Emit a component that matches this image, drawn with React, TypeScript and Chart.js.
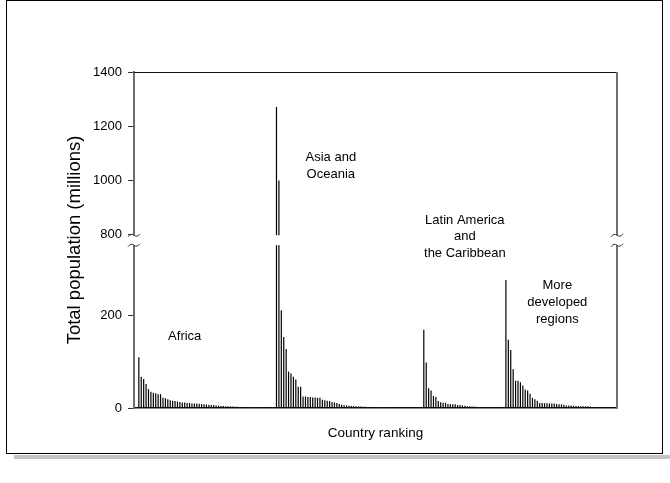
import { useEffect, useRef } from 'react';
import { Chart, registerables, LinearScale } from 'chart.js';

// Population (millions) of each country, ranked within its region
const AFRICA = [
  110, 68, 63, 52, 41, 35, 33, 32, 30, 30,
  22, 21, 19, 17, 16, 15, 14, 13, 12, 12,
  11, 11, 10, 10, 9.5, 9, 8.5, 8, 7.7, 7,
  6.5, 6.3, 5.5, 5, 4.6, 4.4, 4, 3.7, 3.5, 3,
  2.8, 2.5, 2.1, 1.9, 1.6, 1.4, 1.3, 1.2, 1.1, 0.9,
  0.8, 0.7, 0.6, 0.5, 0.4, 0.3, 0.15,
];
const ASIA_OCEANIA = [
  1271, 999, 212, 154, 128, 79, 75, 68, 62, 46,
  46, 25, 25, 24, 24, 23, 23, 22, 22, 18,
  17, 16, 15, 13, 12, 11, 8.5, 7, 6, 5.5,
  5, 4.6, 4.2, 3.8, 3.4, 3.1, 2.8, 2.5, 2.3, 2.1,
  1.9, 1.7, 1.5, 1.3, 1.1, 1, 0.9, 0.8, 0.6, 0.5,
  0.4, 0.3, 0.25, 0.2, 0.15, 0.12, 0.1, 0.08, 0.06, 0.04,
  0.02,
];
const LATIN_AMERICA = [
  170, 99, 43, 38, 26, 24, 15, 12.6, 11.4, 11.2,
  8.5, 8.4, 8.3, 8.1, 6.4, 6.3, 5.5, 5, 4, 3.9,
  3.3, 2.9, 2.6, 1.3, 0.8, 0.45, 0.43, 0.4, 0.3, 0.27,
  0.24, 0.2, 0.16, 0.12,
];
const MORE_DEVELOPED = [
  278, 148, 126, 84, 59, 59, 56, 49, 40, 38,
  31, 22, 19, 16, 11, 10.6, 10.3, 10.2, 10, 10,
  10, 8.8, 8.1, 8, 7.2, 5.4, 5.3, 5.2, 4.7, 4.5,
  4.3, 3.9, 3.8, 3.8, 3.7, 3.1, 2.4, 2, 2, 1.4,
  0.44, 0.39, 0.28, 0.15, 0.09, 0.06,
];

const REGION_NAMES = [
  ['Africa'],
  ['Asia and', 'Oceania'],
  ['Latin America', 'and', 'the Caribbean'],
  ['More', 'developed', 'regions'],
];

const Y_TICKS = [0, 200, 800, 1000, 1200, 1400];

// The value axis is broken between LOW_MAX and HIGH_MIN
const LOW_MAX = 350;
const HIGH_MIN = 800;
const HIGH_MAX = 1400;
const LOW_SHARE = 0.48;
const HIGH_SHARE = 0.483;

const FIRST_RANK = 2;
const RANK_MAX = 200;

const FONT = 'Liberation Sans, Arial, Helvetica, sans-serif';

class BrokenLinearScale extends LinearScale {
  static id = 'brokenLinear';
  static defaults = {};

  getPixelForValue(value: number) {
    if (value === null || value === undefined || Number.isNaN(value)) return NaN;
    const h = this.bottom - this.top;
    const lowTop = this.bottom - h * LOW_SHARE;
    const highBottom = this.top + h * HIGH_SHARE;
    if (value <= LOW_MAX) {
      return this.bottom - (value / LOW_MAX) * (this.bottom - lowTop);
    }
    if (value >= HIGH_MIN) {
      return highBottom - ((value - HIGH_MIN) / (HIGH_MAX - HIGH_MIN)) * (highBottom - this.top);
    }
    return lowTop - ((value - LOW_MAX) / (HIGH_MIN - LOW_MAX)) * (lowTop - highBottom);
  }

  getValueForPixel(pixel: number) {
    const h = this.bottom - this.top;
    const lowTop = this.bottom - h * LOW_SHARE;
    const highBottom = this.top + h * HIGH_SHARE;
    if (pixel >= lowTop) return ((this.bottom - pixel) / (this.bottom - lowTop)) * LOW_MAX;
    if (pixel <= highBottom) {
      return HIGH_MIN + ((highBottom - pixel) / (highBottom - this.top)) * (HIGH_MAX - HIGH_MIN);
    }
    return LOW_MAX + ((lowTop - pixel) / (lowTop - highBottom)) * (HIGH_MIN - LOW_MAX);
  }
}

Chart.register(...registerables, BrokenLinearScale);

// Where each region name sits, in rank / population units
const REGION_ANCHORS = [
  { rank: 21, value: 156 },
  { rank: 81.5, value: 1083 },
  { rank: 137, value: 853 },
  { rank: 175.3, value: 265 },
];

function drawBreakMark(ctx: CanvasRenderingContext2D, x: number, y: number) {
  ctx.beginPath();
  ctx.moveTo(x - 6, y + 1.5);
  ctx.quadraticCurveTo(x - 3, y - 2.5, x, y);
  ctx.quadraticCurveTo(x + 3, y + 2.5, x + 6, y - 1.5);
  ctx.stroke();
}

const framePlugin = {
  id: 'frameAndBreaks',
  beforeDraw(chart: Chart) {
    const { ctx, width, height } = chart;
    ctx.save();
    ctx.fillStyle = '#ffffff';
    ctx.fillRect(0, 0, width, height);
    ctx.restore();
  },
  afterDraw(chart: Chart) {
    const { ctx, chartArea } = chart;
    const { left, right, top, bottom } = chartArea;
    const y = chart.scales.y as any;
    const x = chart.scales.x as any;
    ctx.save();

    // top and right edges of the plot box
    ctx.strokeStyle = '#111';
    ctx.lineWidth = 1;
    ctx.beginPath();
    ctx.moveTo(left, Math.round(top) + 0.5);
    ctx.lineTo(right, Math.round(top) + 0.5);
    ctx.stroke();
    ctx.strokeStyle = '#6e6e6e';
    ctx.lineWidth = 2;
    ctx.beginPath();
    ctx.moveTo(Math.round(right), top);
    ctx.lineTo(Math.round(right), bottom);
    ctx.stroke();

    // axis break
    const yUp = y.getPixelForValue(HIGH_MIN);
    const yLow = y.getPixelForValue(LOW_MAX);
    ctx.fillStyle = '#ffffff';
    ctx.fillRect(left - 7, yUp + 1, right - left + 14, yLow - yUp - 2.5);
    ctx.strokeStyle = '#333';
    ctx.lineWidth = 1;
    drawBreakMark(ctx, left, yUp + 1);
    drawBreakMark(ctx, left, yLow - 1.5);
    drawBreakMark(ctx, right, yUp + 1);
    drawBreakMark(ctx, right, yLow - 1.5);

    // region names
    ctx.fillStyle = '#000';
    ctx.font = `13px ${FONT}`;
    ctx.textAlign = 'center';
    ctx.textBaseline = 'middle';
    REGION_NAMES.forEach((lines, i) => {
      const a = REGION_ANCHORS[i];
      const cx = x.getPixelForValue(a.rank);
      const cy = y.getPixelForValue(a.value);
      lines.forEach((line, k) => ctx.fillText(line, cx, cy + k * 16.8));
    });

    // outer frame with its shadow
    ctx.fillStyle = '#c4c4c4';
    ctx.fillRect(14, 455, 656, 4);
    ctx.strokeStyle = '#000';
    ctx.lineWidth = 1;
    ctx.strokeRect(6.5, 0.5, 656, 453);
    ctx.restore();
  },
};

export default function App() {
  const canvasRef = useRef<HTMLCanvasElement | null>(null);

  useEffect(() => {
    const canvas = canvasRef.current;
    if (!canvas) return;
    const values = [...AFRICA, ...ASIA_OCEANIA, ...LATIN_AMERICA, ...MORE_DEVELOPED];
    const points = values.map((v, i) => ({ x: i + FIRST_RANK, y: v }));

    const chart = new Chart(canvas, {
      type: 'bar',
      data: {
        datasets: [
          {
            label: 'Total population',
            data: points,
            backgroundColor: '#000000',
            borderWidth: 0,
            barThickness: 1.2,
            inflateAmount: 0,
          },
        ],
      },
      plugins: [framePlugin],
      options: {
        animation: false,
        responsive: false,
        devicePixelRatio: 1,
        layout: { padding: { left: 64, right: 53, top: 72, bottom: 35 } },
        plugins: {
          legend: { display: false },
          tooltip: { enabled: false },
        },
        scales: {
          x: {
            type: 'linear',
            min: 0,
            max: RANK_MAX,
            offset: false,
            ticks: { display: false },
            grid: { display: false },
            border: { display: true, color: '#111', width: 1.5 },
            title: {
              display: true,
              text: 'Country ranking',
              color: '#000',
              font: { family: FONT, size: 13.5 },
              padding: { top: 0, bottom: 7 },
            },
            afterFit: (scale: any) => {
              scale.height = 40;
            },
          },
          y: {
            type: 'brokenLinear' as any,
            min: 0,
            max: HIGH_MAX,
            afterBuildTicks: (scale: any) => {
              scale.ticks = Y_TICKS.map((v) => ({ value: v }));
            },
            ticks: {
              autoSkip: false,
              color: '#000',
              font: { family: FONT, size: 13 },
              padding: 6,
              callback: (v: number) => String(v),
            },
            grid: {
              display: true,
              drawOnChartArea: false,
              drawTicks: true,
              tickLength: 6,
              color: '#333',
            },
            border: { display: true, color: '#6e6e6e', width: 2 },
            title: {
              display: true,
              text: 'Total population (millions)',
              color: '#000',
              font: { family: FONT, size: 18.5 },
              padding: { top: 0, bottom: 0 },
            },
            afterFit: (scale: any) => {
              scale.width = 70;
            },
          },
        },
      } as any,
    });
    return () => chart.destroy();
  }, []);

  return (
    <div style={{ position: 'absolute', left: 0, top: 0, width: 670, height: 483 }}>
      <canvas ref={canvasRef} width={670} height={483} />
    </div>
  );
}
